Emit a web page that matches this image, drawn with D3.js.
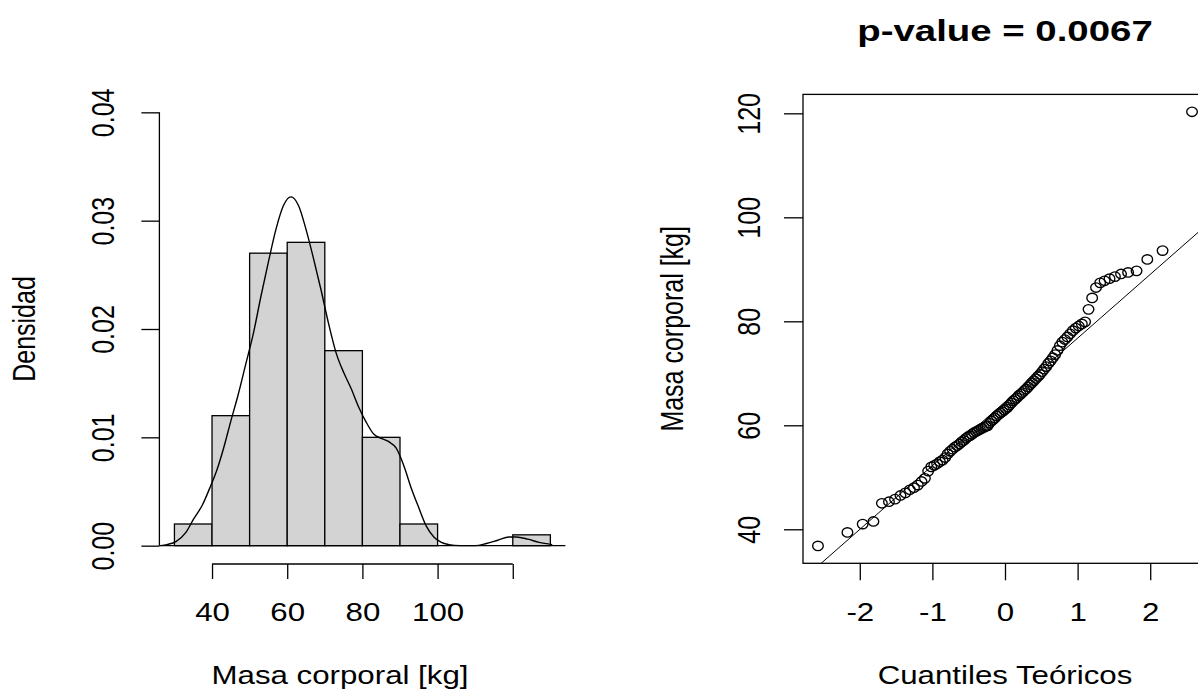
<!DOCTYPE html>
<html>
<head>
<meta charset="utf-8">
<script src="https://cdn.jsdelivr.net/npm/d3@7"></script>
<style>
  body { margin: 0; background: #fff; }
  text { font-family: "Liberation Sans", Arial, sans-serif; fill: #000; }
</style>
</head>
<body>
<script>
// sorted body masses [kg] (n = 100)
const masa = [
  36.8, 39.4, 41.0, 41.5, 45.0, 45.3, 45.8, 46.5, 47.0, 47.6,
  48.0, 48.5, 49.2, 49.8, 51.2, 52.0, 52.3, 52.6, 53.0, 53.3,
  53.8, 54.5, 55.0, 55.4, 55.8, 56.1, 56.4, 56.8, 57.1, 57.5,
  57.8, 58.0, 58.3, 58.6, 58.8, 59.0, 59.2, 59.4, 59.6, 59.8,
  59.9, 60.4, 60.8, 61.1, 61.4, 61.8, 62.1, 62.4, 62.6, 62.9,
  63.2, 63.5, 63.9, 64.3, 64.7, 65.0, 65.3, 65.7, 66.0, 66.3,
  66.7, 67.0, 67.4, 67.8, 68.2, 68.6, 69.0, 69.4, 69.8, 70.3,
  70.8, 71.3, 71.9, 72.4, 73.0, 73.6, 74.4, 75.3, 76.0, 76.5,
  77.0, 77.6, 78.2, 78.7, 79.1, 79.5, 79.9, 82.3, 84.5, 86.5,
  87.4, 87.8, 88.2, 88.6, 89.1, 89.4, 89.7, 91.9, 93.6, 120.3
];

// histogram breaks
const breaks = [30, 40, 50, 60, 70, 80, 90, 100, 110, 120, 130];

// density curve
const densX = [26.3, 28, 30.5, 33, 35, 37.5, 39.5, 41.5, 43, 45, 47, 49, 51, 53, 55, 57, 59, 61,
  63, 65, 67, 69, 71, 73, 75, 77, 79, 81, 83, 85, 87, 89, 91, 93, 95, 97, 99, 101, 103, 106,
  110, 113, 116, 119, 121, 124, 127, 130.5];
const densY = [0.0000, 0.0001, 0.0004, 0.0012, 0.0024, 0.0038, 0.0054, 0.0072, 0.0089, 0.0115,
  0.0140, 0.0168, 0.0196, 0.0230, 0.0262, 0.0292, 0.0314, 0.0322, 0.0314, 0.0292, 0.0265,
  0.0236, 0.0205, 0.0178, 0.0160, 0.0145, 0.0128, 0.0114, 0.0103, 0.0099, 0.0096, 0.0090,
  0.0074, 0.0053, 0.0035, 0.0018, 0.0008, 0.0003, 0.0001, 0.0000, 0.0000, 0.0002, 0.0005,
  0.0008, 0.0008, 0.0006, 0.0003, 0.0001];

// qqline
const qqIntercept = 64.5;
const qqSlope = 12.26;
const pValue = "0.0067";

const histXTicks = [40, 60, 80, 100, 120];
const histXLabels = ["40", "60", "80", "100", ""];
const histYTicks = [0, 0.01, 0.02, 0.03, 0.04];
const qqXTicks = [-2, -1, 0, 1, 2];
const qqYTicks = [40, 60, 80, 100, 120];

const W = 1198, H = 690;
const FS = 25, SX = 1.25;

const svg = d3.select("body").append("svg")
  .attr("width", W).attr("height", H);

// inverse normal cdf (Acklam)
function qnorm(p) {
  const a = [-3.969683028665376e+01, 2.209460984245205e+02, -2.759285104469687e+02, 1.383577518672690e+02, -3.066479806614716e+01, 2.506628277459239e+00];
  const b = [-5.447609879822406e+01, 1.615858368580409e+02, -1.556989798598866e+02, 6.680131188771972e+01, -1.328068155288572e+01];
  const c = [-7.784894002430293e-03, -3.223964580411365e-01, -2.400758277161838e+00, -2.549732539343734e+00, 4.374664141464968e+00, 2.938163982698783e+00];
  const d = [7.784695709041462e-03, 3.224671290700398e-01, 2.445134137142996e+00, 3.754408661907416e+00];
  const pl = 0.02425;
  if (p < pl) {
    const q = Math.sqrt(-2 * Math.log(p));
    return (((((c[0]*q+c[1])*q+c[2])*q+c[3])*q+c[4])*q+c[5]) / ((((d[0]*q+d[1])*q+d[2])*q+d[3])*q+1);
  }
  if (p > 1 - pl) {
    const q = Math.sqrt(-2 * Math.log(1 - p));
    return -(((((c[0]*q+c[1])*q+c[2])*q+c[3])*q+c[4])*q+c[5]) / ((((d[0]*q+d[1])*q+d[2])*q+d[3])*q+1);
  }
  const q = p - 0.5, r = q * q;
  return (((((a[0]*r+a[1])*r+a[2])*r+a[3])*r+a[4])*r+a[5])*q / (((((b[0]*r+b[1])*r+b[2])*r+b[3])*r+b[4])*r+1);
}

function hText(x, y, str, size, weight, sx) {
  svg.append("text")
    .attr("transform", `translate(${x},${y}) scale(${sx},1)`)
    .attr("text-anchor", "middle")
    .attr("font-size", size)
    .attr("font-weight", weight)
    .text(str);
}
function vText(x, y, str) {
  svg.append("text")
    .attr("transform", `translate(${x},${y}) scale(${SX},1) rotate(-90)`)
    .attr("text-anchor", "middle")
    .attr("font-size", FS)
    .text(str);
}
function styleTicks(g, textTransform) {
  g.select(".domain").remove();
  g.selectAll(".tick line").attr("stroke", "#000").attr("stroke-width", 1.3);
  g.selectAll(".tick text")
    .attr("x", 0).attr("y", 0).attr("dy", 0)
    .attr("text-anchor", "middle")
    .attr("font-size", FS)
    .attr("fill", "#000")
    .attr("transform", textTransform);
}

// ---------- left: histogram ----------
const xL = d3.scaleLinear().domain([26, 134]).range([159.4, 565.4]);
const yL = d3.scaleLinear().domain([-0.0016, 0.0416]).range([563, 95]);

svg.append("clipPath").attr("id", "clipL")
  .append("rect").attr("x", 159.4).attr("y", 95).attr("width", 406).attr("height", 468);

const bins = d3.bin().domain([30, 130]).thresholds(breaks.slice(1, -1))(masa);
const n = masa.length;

svg.append("g").selectAll("rect")
  .data(bins.filter(b => b.length > 0))
  .join("rect")
  .attr("x", b => xL(b.x0))
  .attr("width", b => xL(b.x1) - xL(b.x0))
  .attr("y", b => yL(b.length / (n * (b.x1 - b.x0))))
  .attr("height", b => yL(0) - yL(b.length / (n * (b.x1 - b.x0))))
  .attr("fill", "#d3d3d3")
  .attr("stroke", "#000")
  .attr("stroke-width", 1.3);

// zero line across the plot region
svg.append("line")
  .attr("x1", xL.range()[0]).attr("x2", xL.range()[1])
  .attr("y1", yL(0)).attr("y2", yL(0))
  .attr("stroke", "#000").attr("stroke-width", 1.3);

svg.append("path")
  .datum(densX.map((v, i) => [v, densY[i]]))
  .attr("clip-path", "url(#clipL)")
  .attr("fill", "none")
  .attr("stroke", "#000")
  .attr("stroke-width", 1.4)
  .attr("d", d3.line().x(d => xL(d[0])).y(d => yL(d[1])).curve(d3.curveMonotoneX));

const gxL = svg.append("g")
  .attr("transform", "translate(0,564)")
  .call(d3.axisBottom(xL).tickValues(histXTicks)
    .tickFormat((d, i) => histXLabels[i]).tickSize(15));
styleTicks(gxL, `translate(0,57) scale(${SX},1)`);
gxL.append("line")
  .attr("x1", xL(histXTicks[0])).attr("x2", xL(histXTicks[histXTicks.length - 1]))
  .attr("stroke", "#000").attr("stroke-width", 1.3);

const gyL = svg.append("g")
  .attr("transform", `translate(${xL.range()[0]},0)`)
  .call(d3.axisLeft(yL).tickValues(histYTicks)
    .tickFormat(d3.format(".2f")).tickSize(18));
styleTicks(gyL, `translate(-45,0) scale(${SX},1) rotate(-90)`);
gyL.append("line")
  .attr("y1", yL(histYTicks[0])).attr("y2", yL(histYTicks[histYTicks.length - 1]))
  .attr("stroke", "#000").attr("stroke-width", 1.3);

hText(340, 684, "Masa corporal [kg]", FS, "normal", SX);
vText(35, d3.mean(yL.range()), "Densidad");

// ---------- right: normal QQ plot ----------
const xR = d3.scaleLinear().domain([-2.782, 2.782]).range([803, 1207]);
const yR = d3.scaleLinear().domain([33.46, 123.64]).range([563.3, 94.4]);

svg.append("clipPath").attr("id", "clipR")
  .append("rect").attr("x", 803).attr("y", 94.4).attr("width", 404).attr("height", 468.9);

const qq = masa.map((v, i) => ({ q: qnorm((i + 0.5) / n), v }));

svg.append("line")
  .attr("clip-path", "url(#clipR)")
  .attr("x1", xR(-3)).attr("y1", yR(qqIntercept - 3 * qqSlope))
  .attr("x2", xR(3)).attr("y2", yR(qqIntercept + 3 * qqSlope))
  .attr("stroke", "#000").attr("stroke-width", 1);

svg.append("g").selectAll("ellipse")
  .data(qq)
  .join("ellipse")
  .attr("cx", d => xR(d.q))
  .attr("cy", d => yR(d.v))
  .attr("rx", 5.3).attr("ry", 4.7)
  .attr("fill", "none")
  .attr("stroke", "#000")
  .attr("stroke-width", 1.35);

svg.append("rect")
  .attr("x", 803).attr("y", 94.4).attr("width", 404).attr("height", 468.9)
  .attr("fill", "none").attr("stroke", "#000").attr("stroke-width", 1.3);

const gxR = svg.append("g")
  .attr("transform", "translate(0,563.3)")
  .call(d3.axisBottom(xR).tickValues(qqXTicks)
    .tickFormat(d => String(d)).tickSize(17));
styleTicks(gxR, `translate(0,58) scale(${SX},1)`);

const gyR = svg.append("g")
  .attr("transform", "translate(803,0)")
  .call(d3.axisLeft(yR).tickValues(qqYTicks)
    .tickFormat(d => String(d)).tickSize(19));
styleTicks(gyR, `translate(-43,0) scale(${SX},1) rotate(-90)`);

hText(1005, 684, "Cuantiles Teóricos", FS, "normal", SX);
vText(683, d3.mean(yR.range()), "Masa corporal [kg]");
hText(1005, 41, "p-value = " + pValue, 30, "bold", 1.28);
</script>
</body>
</html>
